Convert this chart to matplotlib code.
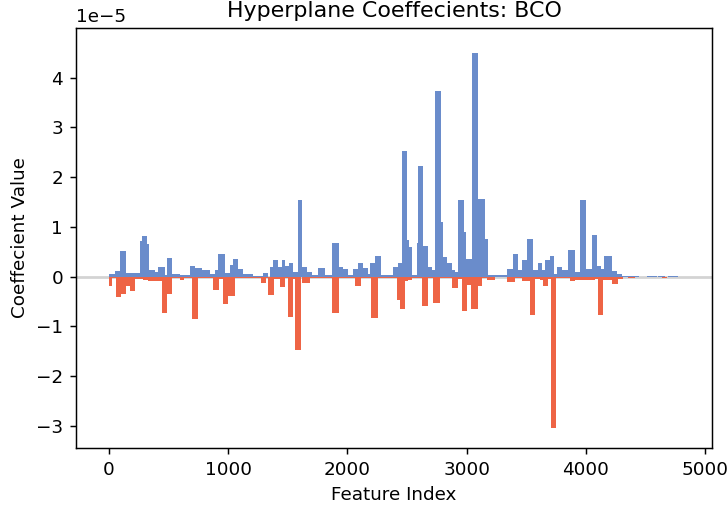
import matplotlib.pyplot as plt
import numpy as np

# (start index, end index, coefficient in units of 1e-5)
pos_segments = [
    (0, 50, 0.05), (50, 92, 0.12), (92, 143, 0.52), (143, 260, 0.08),
    (260, 277, 0.72), (277, 319, 0.82), (319, 336, 0.65), (336, 386, 0.13),
    (386, 411, 0.10), (411, 470, 0.19), (470, 487, 0.03), (487, 529, 0.37),
    (529, 596, 0.05), (596, 680, 0.03), (680, 722, 0.22), (722, 780, 0.17),
    (780, 847, 0.14), (847, 889, 0.05), (889, 914, 0.13), (914, 973, 0.46),
    (973, 1015, 0.07), (1015, 1040, 0.24), (1040, 1082, 0.35), (1082, 1124, 0.16),
    (1124, 1208, 0.05), (1208, 1292, 0.01), (1292, 1334, 0.07), (1351, 1376, 0.20),
    (1376, 1418, 0.33), (1418, 1452, 0.20), (1452, 1477, 0.33), (1477, 1510, 0.22),
    (1510, 1544, 0.27), (1544, 1586, 0.10), (1586, 1619, 1.53), (1619, 1661, 0.20),
    (1661, 1703, 0.10), (1703, 1754, 0.03), (1754, 1812, 0.17), (1812, 1870, 0.04),
    (1870, 1930, 0.67), (1930, 1963, 0.20), (1963, 2005, 0.15), (2005, 2047, 0.04),
    (2047, 2089, 0.15), (2089, 2131, 0.27), (2131, 2173, 0.17), (2173, 2190, 0.05),
    (2190, 2232, 0.27), (2232, 2282, 0.42), (2282, 2316, 0.04), (2316, 2383, 0.03),
    (2383, 2425, 0.19), (2425, 2458, 0.27), (2458, 2500, 2.52), (2500, 2517, 0.74),
    (2517, 2542, 0.60), (2542, 2584, 0.04), (2584, 2593, 0.67), (2593, 2634, 2.22),
    (2634, 2676, 0.62), (2676, 2710, 0.20), (2710, 2735, 0.13), (2735, 2785, 3.73),
    (2785, 2802, 1.10), (2802, 2836, 0.40), (2836, 2878, 0.28), (2878, 2903, 0.13),
    (2903, 2928, 0.10), (2928, 2978, 1.53), (2978, 2995, 0.90), (2995, 3045, 0.35),
    (3045, 3096, 4.50), (3096, 3155, 1.56), (3155, 3180, 0.75), (3180, 3339, 0.03),
    (3339, 3390, 0.15), (3390, 3431, 0.46), (3431, 3465, 0.13), (3465, 3507, 0.33),
    (3507, 3557, 0.75), (3557, 3599, 0.13), (3599, 3633, 0.27), (3633, 3658, 0.13),
    (3658, 3700, 0.33), (3700, 3734, 0.42), (3734, 3759, 0.05), (3759, 3801, 0.20),
    (3801, 3851, 0.13), (3851, 3910, 0.54), (3910, 3952, 0.10), (3952, 4003, 1.53),
    (4003, 4053, 0.15), (4053, 4094, 0.84), (4094, 4128, 0.22), (4128, 4153, 0.15),
    (4153, 4220, 0.42), (4220, 4262, 0.12), (4262, 4304, 0.05), (4304, 4447, 0.02),
    (4514, 4598, 0.02), (4606, 4665, 0.015), (4690, 4775, 0.02),
]

neg_segments = [
    (0, 25, -0.19), (25, 59, -0.03), (59, 101, -0.42), (101, 143, -0.36),
    (143, 176, -0.20), (176, 218, -0.30), (218, 285, -0.04), (285, 327, -0.07),
    (327, 445, -0.10), (445, 487, -0.74), (487, 529, -0.36), (529, 596, -0.02),
    (596, 629, -0.07), (629, 696, -0.02), (696, 747, -0.86), (747, 847, -0.03),
    (847, 870, -0.03), (870, 922, -0.27), (922, 956, -0.05), (956, 998, -0.55),
    (998, 1057, -0.40), (1057, 1275, -0.03), (1275, 1317, -0.13), (1317, 1334, -0.02),
    (1334, 1384, -0.37), (1384, 1435, -0.04), (1435, 1477, -0.22), (1477, 1502, -0.03),
    (1502, 1544, -0.81), (1544, 1561, -0.05), (1561, 1611, -1.47), (1619, 1686, -0.13),
    (1686, 1871, -0.03), (1871, 1930, -0.74), (1930, 2064, -0.03), (2064, 2114, -0.20),
    (2114, 2198, -0.03), (2198, 2257, -0.84), (2257, 2416, -0.03), (2416, 2441, -0.47),
    (2441, 2483, -0.66), (2483, 2509, -0.10), (2509, 2542, -0.07), (2542, 2626, -0.02),
    (2626, 2676, -0.60), (2676, 2718, -0.03), (2718, 2777, -0.54), (2777, 2878, -0.03),
    (2878, 2928, -0.24), (2928, 2962, -0.05), (2962, 3004, -0.69), (3004, 3037, -0.17),
    (3037, 3096, -0.66), (3096, 3129, -0.20), (3129, 3171, -0.03), (3171, 3239, -0.07),
    (3239, 3339, -0.01), (3339, 3406, -0.12), (3406, 3465, -0.02), (3465, 3532, -0.10),
    (3532, 3574, -0.77), (3574, 3616, -0.04), (3616, 3641, -0.08), (3641, 3683, -0.20),
    (3683, 3708, -0.04), (3708, 3750, -3.05), (3750, 3868, -0.03), (3868, 3910, -0.10),
    (3910, 4078, -0.07), (4078, 4103, -0.05), (4103, 4145, -0.77), (4145, 4220, -0.08),
    (4220, 4271, -0.15), (4271, 4313, -0.05), (4355, 4413, -0.02), (4640, 4682, -0.02),
]

pos = np.array(pos_segments)
neg = np.array(neg_segments)

dpi = 132.5
fig = plt.figure(figsize=(727 / dpi, 509 / dpi), dpi=dpi)
ax = fig.add_axes([76 / 727, 61 / 509, 636 / 727, 420 / 509])

ax.axhline(0, color='#d3d3d3', lw=1.5, zorder=0)
ax.bar(pos[:, 0], pos[:, 2] * 1e-5, width=pos[:, 1] - pos[:, 0], align='edge',
       color='#6a8ccb', linewidth=0)
ax.bar(neg[:, 0], neg[:, 2] * 1e-5, width=neg[:, 1] - neg[:, 0], align='edge',
       color='#ee6445', linewidth=0)

ax.set_xlim(-277, 5059)
ax.set_ylim(-3.45e-5, 5.0e-5)
ax.set_yticks(np.arange(-3, 5) * 1e-5)
ax.set_title('Hyperplane Coeffecients: BCO')
ax.set_xlabel('Feature Index')
ax.set_ylabel('Coeffecient Value')

fig.savefig('out.png', dpi=dpi)
